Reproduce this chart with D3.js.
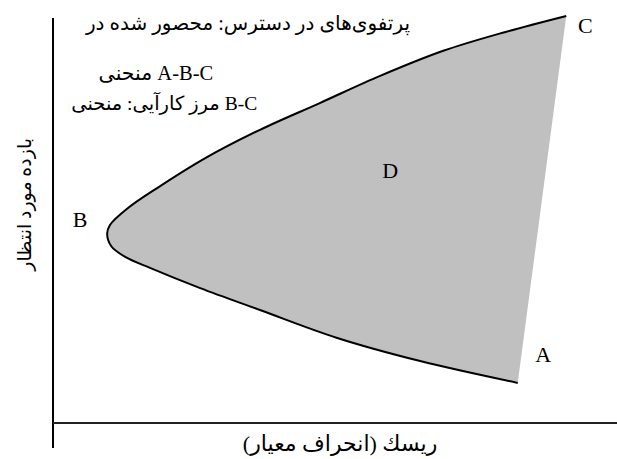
<!DOCTYPE html>
<html>
<head>
<meta charset="utf-8">
<script src="https://cdn.jsdelivr.net/npm/d3@7"></script>
<style>
	body { margin: 0; background: #fff; }
	svg { display: block; }
</style>
</head>
<body>
<script>

// ------------------------ DATA ------------------------
// points along the A-B-C curve, going from C down through B to A
// ... risk = standard deviation, ret = expected return (arbitrary units)
var risk = [91.0, 80.1, 69.2, 58.0, 47.3, 36.7, 27.0, 19.0, 13.3, 10.1, 9.6, 10.3, 12.8, 17.2, 26.1, 36.7, 50.4, 65.1, 82.4];
var ret  = [100.5, 96.5, 91.9, 85.7, 79.0, 72.4, 65.4, 58.5, 53.1, 48.9, 46.7, 43.7, 41.0, 38.3, 33.3, 27.9, 21.0, 15.3, 9.9];

// point labels
var pointNames = ['C', 'B', 'A', 'D'];
var pointRisk  = [94.4, 4.8, 86.9, 59.8];
var pointRet   = [96.3, 48.4, 15.1, 60.5];

// notes at the top left (rtl)
var notes = ['پرتفوی‌های در دسترس: محصور شده در', 'A-B-C منحنی', 'B-C مرز کارآیی: منحنی'];
var noteRisk = [63.3, 28.4, 36.2];
var noteRet  = [97.0, 84.7, 77.3];
var noteSize = [20, 20.5, 19.5];

var xTitle = 'ریسك (انحراف معیار)';
var yTitle = 'بازده مورد انتظار';

// ------------------------ SETUP ------------------------
var W = 617, H = 459;
var FONT = '"Liberation Serif", "DejaVu Sans", serif';

var x = d3.scaleLinear().domain([0, 100]).range([53, 617]);
var y = d3.scaleLinear().domain([0, 100]).range([423, 18]);

var svg = d3.select('body')
	.append('svg')
	.attr('width', W)
	.attr('height', H);

var pts = risk.map(function(r, i) { return [r, ret[i]]; });

var line = d3.line()
	.x(function(d) { return x(d[0]); })
	.y(function(d) { return y(d[1]); })
	.curve(d3.curveCatmullRom.alpha(0.5));

// gray region (curve closed with straight A-C edge)
svg.append('path')
	.attr('d', line(pts) + 'Z')
	.attr('fill', '#c0c0c0')
	.attr('stroke', 'none');

// the curve itself
svg.append('path')
	.attr('d', line(pts))
	.attr('fill', 'none')
	.attr('stroke', '#000')
	.attr('stroke-width', 2);

// ------------------------ AXES ------------------------
svg.append('line')
	.attr('x1', x(0)).attr('x2', x(0))
	.attr('y1', y(100)).attr('y2', y(-6.2))
	.attr('stroke', '#000')
	.attr('stroke-width', 2);

svg.append('line')
	.attr('x1', x(0)).attr('x2', x(100))
	.attr('y1', y(0)).attr('y2', y(0))
	.attr('stroke', '#222')
	.attr('stroke-width', 2);

// ------------------------ TEXT ------------------------
svg.selectAll('.pt')
	.data(pointNames)
	.enter()
	.append('text')
	.attr('class', 'pt')
	.attr('x', function(d, i) { return x(pointRisk[i]); })
	.attr('y', function(d, i) { return y(pointRet[i]); })
	.attr('text-anchor', 'middle')
	.attr('font-family', FONT)
	.attr('font-size', '22px')
	.attr('fill', '#000')
	.text(function(d) { return d; });

svg.selectAll('.note')
	.data(notes)
	.enter()
	.append('text')
	.attr('class', 'note')
	.attr('x', function(d, i) { return x(noteRisk[i]); })
	.attr('y', function(d, i) { return y(noteRet[i]); })
	.attr('direction', 'rtl')
	.attr('text-anchor', 'start')
	.attr('font-family', FONT)
	.attr('font-size', function(d, i) { return noteSize[i] + 'px'; })
	.attr('fill', '#000')
	.text(function(d) { return d; });

svg.append('text')
	.attr('x', x(50.9))
	.attr('y', 451)
	.attr('text-anchor', 'middle')
	.attr('font-family', FONT)
	.attr('font-size', '22px')
	.text(xTitle);

svg.append('text')
	.attr('transform', 'translate(31,' + y(54) + ') rotate(-90)')
	.attr('text-anchor', 'middle')
	.attr('font-family', FONT)
	.attr('font-size', '19px')
	.text(yTitle);

</script>
</body>
</html>
